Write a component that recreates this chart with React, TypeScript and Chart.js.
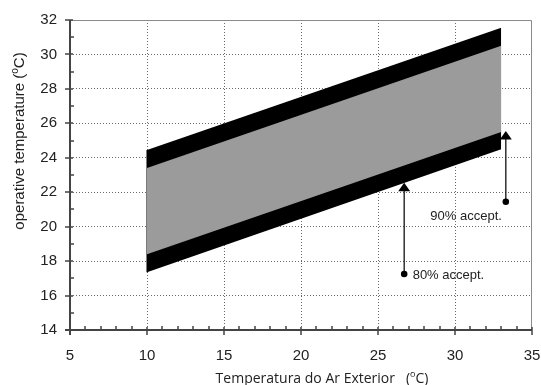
import React, { useEffect, useRef } from "react";
import { Chart, registerables } from "chart.js";

Chart.register(...registerables);

// Band limits (ASHRAE adaptive comfort) at outdoor temperatures 10 and 33 °C
const bandX = [10, 33];
const outerUpper = [24.45, 31.55];
const innerUpper = [23.4, 30.5];
const innerLower = [18.4, 25.5];
const outerLower = [17.35, 24.5];

// Arrows: [x, dotY, tipY]
const arrows80 = [26.7, 17.25, 22.55];
const arrows90 = [33.3, 21.45, 25.55];

// Annotation labels: [x, y]
const label80Pos = [27.25, 17.18];
const label90Pos = [28.4, 20.6];
const label80 = "80% accept.";
const label90 = "90% accept.";

const xTicks = [5, 10, 15, 20, 25, 30, 35];
const yTicks = [14, 16, 18, 20, 22, 24, 26, 28, 30, 32];

const pts = (ys: number[]) => bandX.map((x, i) => ({ x, y: ys[i] }));

const framePlugin = {
  id: "frame",
  afterDatasetsDraw(chart: any) {
    const ctx = chart.ctx;
    const xs = chart.scales.x;
    const ys = chart.scales.y;
    const { left, right, top, bottom } = chart.chartArea;
    ctx.save();
    // arrows
    const drawArrow = (a: number[]) => {
      const px = xs.getPixelForValue(a[0]);
      const py0 = ys.getPixelForValue(a[1]);
      const py1 = ys.getPixelForValue(a[2]);
      ctx.strokeStyle = "#111";
      ctx.lineWidth = 1.3;
      ctx.beginPath();
      ctx.moveTo(px, py0);
      ctx.lineTo(px, py1 + 6);
      ctx.stroke();
      ctx.fillStyle = "#000";
      ctx.beginPath();
      ctx.moveTo(px, py1);
      ctx.lineTo(px - 6, py1 + 8.5);
      ctx.lineTo(px + 6, py1 + 8.5);
      ctx.closePath();
      ctx.fill();
      ctx.beginPath();
      ctx.arc(px, py0, 3.3, 0, Math.PI * 2);
      ctx.fill();
    };
    drawArrow(arrows80);
    drawArrow(arrows90);
    // labels
    ctx.fillStyle = "#222";
    ctx.font = "13px 'Liberation Sans', Arial, sans-serif";
    ctx.textAlign = "left";
    ctx.textBaseline = "middle";
    ctx.fillText(label80, xs.getPixelForValue(label80Pos[0]), ys.getPixelForValue(label80Pos[1]));
    ctx.fillText(label90, xs.getPixelForValue(label90Pos[0]), ys.getPixelForValue(label90Pos[1]));

    // frame top/right
    ctx.strokeStyle = "#8a8a8a";
    ctx.lineWidth = 1;
    ctx.beginPath();
    ctx.moveTo(left, top + 0.5);
    ctx.lineTo(right - 0.5, top + 0.5);
    ctx.lineTo(right - 0.5, bottom);
    ctx.stroke();

    // axes
    ctx.strokeStyle = "#444";
    ctx.lineWidth = 2;
    ctx.beginPath();
    ctx.moveTo(left, top);
    ctx.lineTo(left, bottom + 5);
    ctx.moveTo(left - 5, bottom);
    ctx.lineTo(right, bottom);
    ctx.stroke();
    ctx.lineWidth = 1.5;
    ctx.beginPath();
    // x ticks
    for (let v = xTicks[0]; v <= xTicks[xTicks.length - 1]; v += 1) {
      const px = Math.round(xs.getPixelForValue(v));
      if (v % 5 === 0) {
        ctx.moveTo(px, bottom - 3);
        ctx.lineTo(px, bottom + 5);
      } else {
        ctx.moveTo(px, bottom);
        ctx.lineTo(px, bottom - 4);
      }
    }
    // y ticks
    for (let v = yTicks[0]; v <= yTicks[yTicks.length - 1]; v += 1) {
      const py = Math.round(ys.getPixelForValue(v));
      if (v % 2 === 0) {
        ctx.moveTo(left - 5, py);
        ctx.lineTo(left + 3, py);
      } else {
        ctx.moveTo(left, py);
        ctx.lineTo(left + 4, py);
      }
    }
    ctx.stroke();

    // axis titles with superscript
    const measure = (parts: [string, string, string], font: string, supFont: string) => {
      ctx.font = font;
      const w1 = ctx.measureText(parts[0]).width;
      ctx.font = supFont;
      const w2 = ctx.measureText(parts[1]).width;
      ctx.font = font;
      const w3 = ctx.measureText(parts[2]).width;
      return { w1, w2, w3, total: w1 + w2 + w3 };
    };
    ctx.fillStyle = "#222";
    ctx.textAlign = "left";
    ctx.textBaseline = "alphabetic";
    // x title
    {
      const font = "14px 'Open Sans', sans-serif";
      const sup = "9px 'Open Sans', sans-serif";
      const p: [string, string, string] = ["Temperatura do Ar Exterior   (", "o", "C)"];
      const m = measure(p, font, sup);
      const x0 = 322 - m.total / 2;
      const yb = 382.5;
      ctx.font = font;
      ctx.fillText(p[0], x0, yb);
      ctx.font = sup;
      ctx.fillText(p[1], x0 + m.w1, yb - 6);
      ctx.font = font;
      ctx.fillText(p[2], x0 + m.w1 + m.w2, yb);
    }
    // y title
    {
      const font = "15px 'Liberation Sans', Arial, sans-serif";
      const sup = "10px 'Liberation Sans', Arial, sans-serif";
      const p: [string, string, string] = ["operative temperature (", "o", "C)"];
      const m = measure(p, font, sup);
      ctx.translate(24, 141);
      ctx.rotate(-Math.PI / 2);
      const x0 = -m.total / 2;
      ctx.font = font;
      ctx.fillText(p[0], x0, 0);
      ctx.font = sup;
      ctx.fillText(p[1], x0 + m.w1, -6);
      ctx.font = font;
      ctx.fillText(p[2], x0 + m.w1 + m.w2, 0);
    }
    ctx.restore();
  },
};

export default function App() {
  const ref = useRef<HTMLCanvasElement | null>(null);
  useEffect(() => {
    if (!ref.current) return;
    const chart = new Chart(ref.current, {
      type: "line",
      data: {
        datasets: [
          {
            data: pts(innerUpper),
            borderWidth: 0,
            pointRadius: 0,
            fill: "+1",
            backgroundColor: "#9b9b9b",
            borderColor: "rgba(0,0,0,0)",
          },
          {
            data: pts(innerLower),
            borderWidth: 0,
            pointRadius: 0,
            fill: false,
            borderColor: "rgba(0,0,0,0)",
          },
          {
            data: pts(outerUpper),
            borderWidth: 0,
            pointRadius: 0,
            fill: "+1",
            backgroundColor: "#000",
            borderColor: "rgba(0,0,0,0)",
          },
          {
            data: pts(outerLower),
            borderWidth: 0,
            pointRadius: 0,
            fill: false,
            borderColor: "rgba(0,0,0,0)",
          },
          {
            data: [
              { x: bandX[0], y: outerLower[0] },
              { x: bandX[0], y: outerUpper[0] },
            ],
            borderWidth: 1.2,
            borderColor: "#222",
            pointRadius: 0,
            fill: false,
          },
        ],
      },
      options: {
        animation: false,
        responsive: false,
        maintainAspectRatio: false,
        layout: { padding: { left: 0, right: 9, top: 20, bottom: 0 } },
        plugins: { legend: { display: false }, tooltip: { enabled: false } },
        scales: {
          x: {
            type: "linear",
            min: 5,
            max: 35,
            afterBuildTicks: (s: any) => {
              s.ticks = xTicks.map((v) => ({ value: v }));
            },
            afterFit: (s: any) => {
              s.height = 55;
              s.paddingLeft = 0;
              s.paddingRight = 0;
            },
            grid: {
              drawTicks: false,
              color: (c: any) => (c.tick && (c.tick.value === 5 || c.tick.value === 35) ? "rgba(0,0,0,0)" : "#6a6a6a"),
              lineWidth: 1,
            },
            border: { display: false, dash: [1, 2] },
            ticks: {
              padding: 17,
              color: "#222",
              font: { family: "'Liberation Sans', Arial, sans-serif", size: 15 },
              maxRotation: 0,
            },
          },
          y: {
            type: "linear",
            min: 14,
            max: 32,
            afterBuildTicks: (s: any) => {
              s.ticks = yTicks.map((v) => ({ value: v }));
            },
            afterFit: (s: any) => {
              s.width = 70;
              s.paddingTop = 0;
              s.paddingBottom = 0;
            },
            grid: {
              drawTicks: false,
              color: (c: any) => (c.tick && (c.tick.value === 14 || c.tick.value === 32) ? "rgba(0,0,0,0)" : "#6a6a6a"),
              lineWidth: 1,
            },
            border: { display: false, dash: [1, 2] },
            ticks: {
              padding: 13,
              color: "#222",
              font: { family: "'Liberation Sans', Arial, sans-serif", size: 15 },
            },
          },
        },
      },
      plugins: [framePlugin],
    });
    return () => chart.destroy();
  }, []);
  return (
    <div style={{ position: "fixed", left: 0, top: 0, width: 541, height: 385, background: "#fff" }}>
      <canvas ref={ref} width={541} height={385} style={{ display: "block", width: 541, height: 385 }} />
    </div>
  );
}
